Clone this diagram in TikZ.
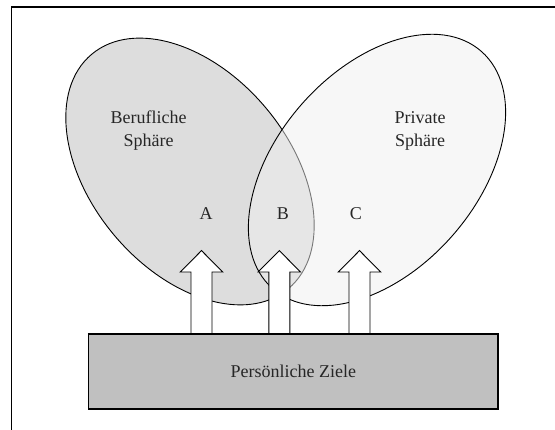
\documentclass[tikz,border=0pt]{standalone}
\usepackage{fontspec}
\setmainfont{Liberation Serif}
\usepackage{tikz}
\usetikzlibrary{shapes.geometric,positioning}

\begin{document}
\begin{tikzpicture}[x=1pt,y=1pt]
            \tikzstyle{sphere}=[ellipse,draw=black,line width=0.9pt,inner sep=0pt]
            \tikzstyle{blockarrow}=[draw=black,fill=white,line width=0.9pt,line join=miter]
            \tikzstyle{label}=[font=\fontsize{18}{23}\selectfont,align=center,text=black!85]
            \definecolor{berufgray}{gray}{0.865}
            \definecolor{privatgray}{gray}{0.937}
            \definecolor{zielgray}{gray}{0.753}
            \useasboundingbox (0,0) rectangle (555,430);
            \draw[line width=1.5pt] (11.5,0) -- (11.5,423) -- (555,423);
            \node[sphere,fill=berufgray,minimum width=306pt,minimum height=198pt,rotate=-50] (beruf) at (190,258.5) {};
            \node[sphere,fill=privatgray,fill opacity=0.5,minimum width=316pt,minimum height=200pt,rotate=48.6] (privat) at (377,260) {};
            \node[draw=black,line width=1.4pt,fill=zielgray,minimum width=409.5pt,minimum height=75pt,inner sep=0pt] (ziele) at (293.3,58.5) {};
            \foreach \ax in {201.5,279.3,359.5}
                \draw[blockarrow] ({\ax-10.5},{96}) -- ({\ax-10.5},158) -- ({\ax-21.2},158) -- (\ax,179.4) -- ({\ax+21.2},158) -- ({\ax+10.5},158) -- ({\ax+10.5},96);
            \draw[line width=1.4pt] (ziele.north west) -- (ziele.north east);
            \node[label] at (ziele.center) {Persönliche Ziele};
            \node[label] (berufText) at (148.7,299) {Berufliche\\Sphäre};
            \node[label] (privatText) at (420,299) {Private\\Sphäre};
            \node[label] (a) at (206,216) {A};
            \node[label] (b) at (283,216) {B};
            \node[label] (c) at (356,216) {C};
        \end{tikzpicture}
\end{document}
